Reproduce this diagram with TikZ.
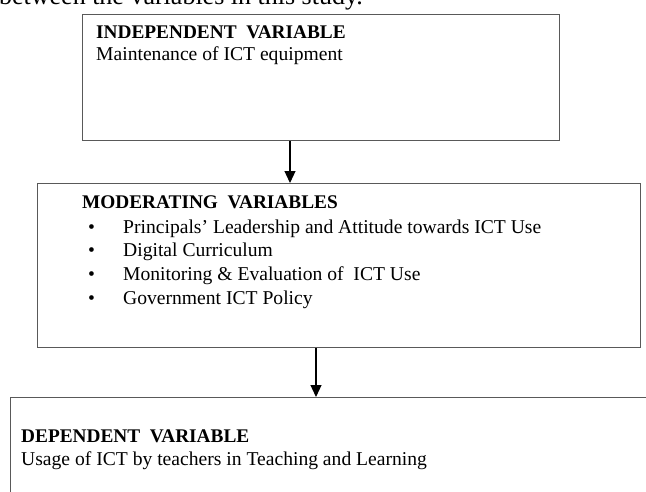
\documentclass[tikz,border=0pt]{standalone}
\usepackage{fontspec}
\setmainfont{Liberation Serif}
\usetikzlibrary{arrows.meta}
\begin{document}
\begin{tikzpicture}[x=1pt,y=-1pt,
  framebox/.style={draw=black!65,line width=1.3pt,inner sep=0pt,anchor=north west},
  lbl/.style={anchor=base west,inner sep=0pt,font=\fontsize{19.6}{22}\selectfont},
  head/.style={lbl,font=\fontsize{19.3}{22}\selectfont\bfseries},
  flow/.style={-{Triangle[length=12pt,width=11pt]},line width=1.2pt,black}]
\useasboundingbox (0,0) rectangle (646,491);
\clip (0,0) rectangle (646,491);
% running text above the figure
\node[anchor=base east,inner sep=0pt,font=\fontsize{26}{28}\selectfont] (intro) at (363,4) {between the variables in this study.};
% the three boxes
\node[framebox,minimum width=477pt,minimum height=126pt] (ind) at (82,14) {};
\node[framebox,minimum width=603pt,minimum height=164pt] (mod) at (37,183) {};
\node[framebox,minimum width=700pt,minimum height=150pt] (dep) at (10,397) {};
% independent variable
\node[head] (indh) at (96,38) {INDEPENDENT\ \ VARIABLE};
\node[lbl] (indt) at (96,60) {Maintenance of ICT equipment};
% moderating variables
\node[head] (modh) at (82,208) {MODERATING\ \ VARIABLES};
\foreach \y/\t [count=\i] in {233/{Principals’ Leadership and Attitude towards ICT Use},
                               256/{Digital Curriculum},
                               280/{Monitoring \& Evaluation of\ \ ICT Use},
                               304/{Government ICT Policy}}{
  \node[lbl] (b\i) at (88,\y) {\textbullet};
  \node[lbl] (m\i) at (123,\y) {\t};
}
% dependent variable
\node[head] (deph) at (21,442) {DEPENDENT\ \ VARIABLE};
\node[lbl] (dept) at (21,465) {Usage of ICT by teachers in Teaching and Learning};
% connectors
\draw[flow] (ind.south -| 290,0) -- (mod.north -| 290,0);
\draw[flow] (mod.south -| 316,0) -- (dep.north -| 316,0);
\end{tikzpicture}
\end{document}
